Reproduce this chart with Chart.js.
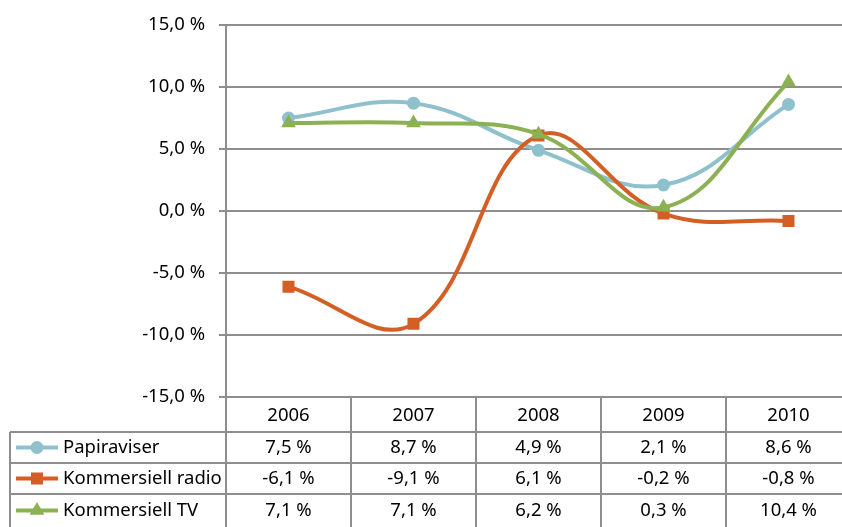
<!DOCTYPE html>
<html>
<head>
<meta charset="utf-8">
<script src="https://cdn.jsdelivr.net/npm/chart.js@4"></script>
<style>
    html, body { margin: 0; padding: 0; background: #fff; overflow: hidden; }
    #wrap { width: 842px; height: 527px; }
</style>
</head>
<body>
<div id="wrap"><canvas id="myChart"></canvas></div>
<script>
const years = ['2006', '2007', '2008', '2009', '2010']
const seriesNames = ['Papiraviser', 'Kommersiell radio', 'Kommersiell TV']
const papiraviser = [7.5, 8.7, 4.9, 2.1, 8.6]
const radio = [-6.1, -9.1, 6.1, -0.2, -0.8]
const tv = [7.1, 7.1, 6.2, 0.3, 10.4]
const yTicks = [-15, -10, -5, 0, 5, 10, 15]

const colors = ['#8fc1cc', '#d35f27', '#8bb153']
const markers = [
    { pointStyle: 'circle', radius: 6.5 },
    { pointStyle: 'rect', radius: 8.5 },
    { pointStyle: 'triangle', radius: 8.5 }
]
const FONT = '"Noto Sans", sans-serif'
const FONT_SIZE = 18.5
const GRID = '#8e8e8e'

const fmt = v => v.toFixed(1).replace('.', ',') + ' %'

// the plot area runs a little past the right edge of the picture
const extendPlot = {
    id: 'extendPlot',
    afterLayout(chart) {
        const extra = chart.width + 9 - chart.chartArea.right
        chart.chartArea.right += extra
        chart.chartArea.width += extra
        const xs = chart.scales.x
        xs.right += extra
        xs.width += extra
        xs.configure()
    }
}

// data table drawn under the plot, columns follow the x scale
const dataTable = {
    id: 'dataTable',
    afterDraw(chart) {
        const ctx = chart.ctx
        const area = chart.chartArea
        const xs = chart.scales.x
        const colW = (area.right - area.left) / years.length
        const top = area.bottom
        const rows = [top, top + 35, top + 66, top + 97, top + 130]
        const left = 10
        const right = chart.width

        ctx.save()
        ctx.strokeStyle = GRID
        ctx.lineWidth = 2
        ctx.beginPath()
        // horizontal row lines
        for (let r = 1; r < 4; r++) {
            ctx.moveTo(left, rows[r])
            ctx.lineTo(right, rows[r])
        }
        // vertical column lines
        for (let i = 0; i <= years.length; i++) {
            const x = area.left + i * colW
            ctx.moveTo(x, top)
            ctx.lineTo(x, rows[4])
        }
        ctx.moveTo(left, rows[1])
        ctx.lineTo(left, rows[4])
        ctx.stroke()

        ctx.fillStyle = '#000'
        ctx.font = FONT_SIZE + 'px ' + FONT
        ctx.textAlign = 'center'
        ctx.textBaseline = 'middle'
        years.forEach((y, i) => {
            ctx.fillText(y, xs.getPixelForValue(i), (rows[0] + rows[1]) / 2 + 1)
        })
        chart.data.datasets.forEach((ds, r) => {
            const cy = (rows[r + 1] + rows[r + 2]) / 2
            ds.data.forEach((v, i) => {
                ctx.textAlign = 'center'
                ctx.fillText(fmt(v), xs.getPixelForValue(i), cy)
            })
            // legend key
            ctx.strokeStyle = ds.borderColor
            ctx.lineWidth = 4
            ctx.beginPath()
            ctx.moveTo(16, cy)
            ctx.lineTo(58, cy)
            ctx.stroke()
            ctx.fillStyle = ds.borderColor
            Chart.helpers.drawPoint(ctx, {
                pointStyle: ds.pointStyle,
                radius: ds.pointRadius,
                borderWidth: 0
            }, 37, cy)
            ctx.fillStyle = '#000'
            ctx.textAlign = 'left'
            ctx.fillText(ds.label, 63, cy)
        })
        ctx.restore()
    }
}

const makeSet = (i, data) => ({
    label: seriesNames[i],
    data: data,
    borderColor: colors[i],
    backgroundColor: colors[i],
    pointBackgroundColor: colors[i],
    pointBorderColor: colors[i],
    pointBorderWidth: 0,
    borderWidth: 4,
    pointStyle: markers[i].pointStyle,
    pointRadius: markers[i].radius,
    tension: 0.4,
    fill: false,
    order: 2 - i
})

new Chart(document.getElementById('myChart'), {
    type: 'line',
    data: {
        labels: years,
        datasets: [
            makeSet(0, papiraviser),
            makeSet(1, radio),
            makeSet(2, tv)
        ]
    },
    options: {
        responsive: true,
        maintainAspectRatio: false,
        animation: false,
        layout: { autoPadding: false, padding: { top: 22, bottom: 130, left: 0, right: 0 } },
        plugins: {
            legend: { display: false },
            tooltip: { enabled: false }
        },
        scales: {
            x: {
                display: false,
                offset: true
            },
            y: {
                min: yTicks[0],
                max: yTicks[yTicks.length - 1],
                afterBuildTicks: scale => {
                    scale.ticks = yTicks.map(v => ({ value: v }))
                },
                afterFit: scale => {
                    scale.width = 226
                },
                grid: {
                    color: GRID,
                    lineWidth: 2,
                    tickLength: 7
                },
                border: { display: true, color: GRID, width: 2 },
                ticks: {
                    padding: 14,
                    color: '#000',
                    font: { family: FONT, size: FONT_SIZE },
                    callback: v => fmt(v)
                }
            }
        }
    },
    plugins: [extendPlot, dataTable]
})
</script>
</body>
</html>
